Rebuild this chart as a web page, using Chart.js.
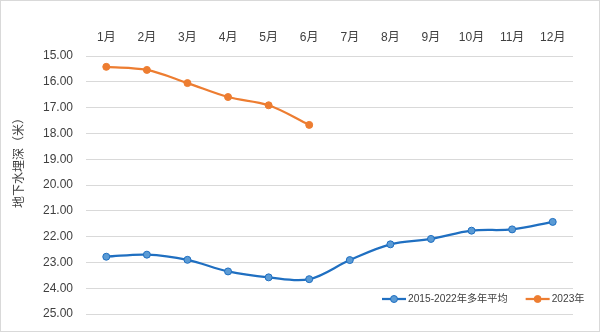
<!DOCTYPE html>
<html>
<head>
    <script src="https://cdn.jsdelivr.net/npm/chart.js@4/dist/chart.umd.min.js"></script>
    <style>
        body { margin: 0; background: #ffffff; }
        div#box {
            width: 598px;
            height: 330px;
            border: 1px solid #d9d9d9;
        }
    </style>
</head>
<body>
    <div id="box"><canvas id="depthChart" width="598" height="330"></canvas></div>

    <script>
        // months along the top axis
        var months = ['1月', '2月', '3月', '4月', '5月', '6月', '7月', '8月', '9月', '10月', '11月', '12月'];
        // groundwater depth (m), multi-year average 2015-2022
        var avgDepth = [22.78, 22.70, 22.90, 23.35, 23.58, 23.65, 22.91, 22.30, 22.09, 21.77, 21.72, 21.43];
        // groundwater depth (m), 2023 (Jan-Jun only)
        var depth2023 = [15.42, 15.54, 16.05, 16.59, 16.91, 17.67];
        var seriesNames = ['2015-2022年多年平均', '2023年'];
        var yTitle = '地下水埋深（米）';

        var FONT = '"Liberation Sans", "Noto Sans CJK SC", sans-serif';
        var TEXT = '#404040';

        // Excel-like legend inside the plot (bottom right) + the y title, which Excel puts off-centre
        var extras = {
            id: 'extras',
            afterDraw: function(chart) {
                var ctx = chart.ctx;
                var area = chart.chartArea;
                ctx.save();
                ctx.fillStyle = TEXT;
                ctx.font = '12px ' + FONT;
                ctx.textAlign = 'center';
                ctx.textBaseline = 'middle';
                ctx.translate(19, area.top + 104);
                ctx.rotate(-Math.PI / 2);
                ctx.fillText(yTitle, 0, 0);
                ctx.restore();

                var y = area.bottom - 15;
                var x = area.right - 191;
                ctx.save();
                ctx.font = '10.2px ' + FONT;
                ctx.textBaseline = 'middle';
                chart.data.datasets.forEach(function(ds) {
                    ctx.strokeStyle = ds.borderColor;
                    ctx.lineWidth = 2.25;
                    ctx.beginPath();
                    ctx.moveTo(x, y);
                    ctx.lineTo(x + 24, y);
                    ctx.stroke();
                    ctx.beginPath();
                    ctx.arc(x + 12, y, 3.5, 0, Math.PI * 2);
                    ctx.fillStyle = ds.pointBackgroundColor;
                    ctx.fill();
                    ctx.lineWidth = 1;
                    ctx.strokeStyle = ds.pointBorderColor;
                    ctx.stroke();
                    ctx.fillStyle = TEXT;
                    ctx.fillText(ds.label, x + 26, y);
                    x += 26 + ctx.measureText(ds.label).width + 18;
                });
                ctx.restore();
            }
        };

        var ctx = document.getElementById('depthChart').getContext('2d');
        var chart = new Chart(ctx, {
            type: 'line',
            data: {
                labels: months,
                datasets: [{
                    label: seriesNames[0],
                    data: avgDepth,
                    borderColor: '#1f6fc1',
                    borderWidth: 2.25,
                    pointBackgroundColor: '#5b9bd5',
                    pointBorderColor: '#1f6fc1',
                    pointBorderWidth: 1,
                    pointRadius: 3.5,
                    tension: 0.35
                }, {
                    label: seriesNames[1],
                    data: depth2023,
                    borderColor: '#ed7d31',
                    borderWidth: 2.25,
                    pointBackgroundColor: '#ed7d31',
                    pointBorderColor: '#ed7d31',
                    pointBorderWidth: 1,
                    pointRadius: 3.5,
                    tension: 0.35
                }]
            },
            options: {
                responsive: false,
                animation: false,
                layout: { padding: { top: 0, right: 26, bottom: 17, left: 0 } },
                plugins: {
                    legend: { display: false },
                    tooltip: { enabled: false }
                },
                scales: {
                    x: {
                        position: 'top',
                        offset: true,
                        afterFit: function(scale) { scale.height = 55; },
                        grid: { display: false, drawTicks: false },
                        border: { display: false },
                        ticks: { color: TEXT, font: { family: FONT, size: 12 }, padding: 11, maxRotation: 0 }
                    },
                    y: {
                        reverse: true,
                        min: 15,
                        max: 25,
                        afterFit: function(scale) { scale.width = 85; },
                        // invisible tick marks give the label gap without padding the plot
                        grid: { color: '#d9d9d9', drawTicks: true, tickLength: 13, tickColor: 'rgba(0,0,0,0)' },
                        border: { display: false },
                        ticks: {
                            stepSize: 1,
                            padding: 0,
                            color: TEXT,
                            font: { family: FONT, size: 12 },
                            callback: function(v) { return v.toFixed(2); }
                        }
                    }
                }
            },
            plugins: [extras]
        });
    </script>
</body>
</html>
